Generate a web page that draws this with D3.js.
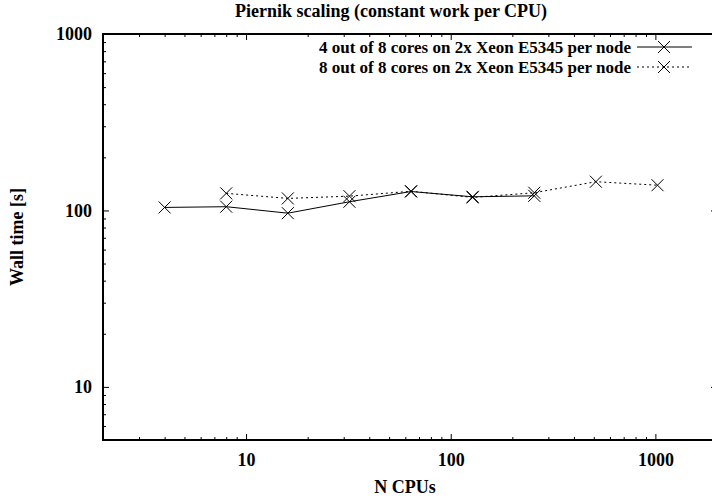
<!DOCTYPE html>
<html>
<head>
<meta charset="utf-8">
<script src="https://cdnjs.cloudflare.com/ajax/libs/d3/7.8.5/d3.min.js"></script>
<style>
  body { margin: 0; background: #fff; }
</style>
</head>
<body>
<div id="chart"></div>
<script>
// data
var cpus4 = [4, 8, 16, 32, 64, 128, 256];
var time4 = [104, 105, 96.5, 112, 128, 119.5, 121];
var cpus8 = [8, 16, 32, 64, 128, 256, 512, 1024];
var time8 = [125, 117, 120.5, 128.5, 118.5, 126, 145.5, 139];

var seriesNames = [
  "4 out of 8 cores on 2x Xeon E5345 per node",
  "8 out of 8 cores on 2x Xeon E5345 per node"
];

var xMajor = [10, 100, 1000];
var yMajor = [10, 100, 1000];

var FONT = "'Liberation Serif', 'Times New Roman', serif";

var width = 712, height = 501;
var margin = {top: 34, right: -5, bottom: 61, left: 103};

var x = d3.scaleLog()
  .domain([2, 2000])
  .range([margin.left, width - margin.right]);
var y = d3.scaleLog()
  .domain([5, 1000])
  .range([height - margin.bottom, margin.top]);

// minor ticks: 2..9 of each decade
function minors(lo, hi) {
  var out = [];
  for (var dec = 1; dec <= 1000; dec *= 10) {
    for (var k = 2; k <= 9; k++) {
      var v = k * dec;
      if (v >= lo && v <= hi) out.push(v);
    }
  }
  return out;
}

var svg = d3.select("#chart")
  .append("svg")
    .attr("width", width)
    .attr("height", height);

var x0 = x.range()[0], x1 = x.range()[1],
    y0 = y.range()[0], y1 = y.range()[1];

function label(sel, size) {
  return sel.style("font-family", FONT)
    .style("font-weight", "bold")
    .style("font-size", size + "px")
    .style("fill", "#000");
}

// ticks, inward, mirrored on top and right
function tickAxis(axis, tf, size, vals, labels) {
  var g = svg.append("g")
    .attr("transform", tf)
    .call(axis.tickValues(vals).tickSize(size).tickSizeOuter(0)
      .tickFormat(labels ? function(d) { return d; } : ""));
  g.select(".domain").remove();
  g.selectAll("line").attr("stroke", "#000").attr("stroke-width", 1);
  label(g.selectAll("text"), 18);
  return g;
}

var gb = tickAxis(d3.axisBottom(x), "translate(0," + y0 + ")", -6, xMajor, true);
gb.selectAll("text").attr("y", 13);
tickAxis(d3.axisBottom(x), "translate(0," + y0 + ")", -3, minors(2, 2000), false);
tickAxis(d3.axisTop(x), "translate(0," + y1 + ")", -6, xMajor, false);
tickAxis(d3.axisTop(x), "translate(0," + y1 + ")", -3, minors(2, 2000), false);

var gl = tickAxis(d3.axisLeft(y), "translate(" + x0 + ",0)", -6, yMajor, true);
gl.selectAll("text").attr("x", -11);
tickAxis(d3.axisLeft(y), "translate(" + x0 + ",0)", -3, minors(5, 1000), false);
tickAxis(d3.axisRight(y), "translate(" + x1 + ",0)", -6, yMajor, false);
tickAxis(d3.axisRight(y), "translate(" + x1 + ",0)", -3, minors(5, 1000), false);

// border
svg.append("rect")
  .attr("x", x0)
  .attr("y", y1)
  .attr("width", x1 - x0)
  .attr("height", y0 - y1)
  .style("fill", "none")
  .style("stroke", "#000")
  .style("stroke-width", 2);

// titles
label(svg.append("text"), 18)
  .attr("x", 391)
  .attr("y", 17)
  .attr("text-anchor", "middle")
  .text("Piernik scaling (constant work per CPU)");

label(svg.append("text"), 18)
  .attr("x", 405)
  .attr("y", 493)
  .attr("text-anchor", "middle")
  .text("N CPUs");

label(svg.append("text"), 18)
  .attr("transform", "translate(23," + ((y0 + y1) / 2) + ") rotate(-90)")
  .attr("text-anchor", "middle")
  .text("Wall time [s]");

// series
var series = [
  {xs: cpus4, ys: time4, dash: null},
  {xs: cpus8, ys: time8, dash: "2,3"}
];

var line = d3.line()
  .x(function(d) { return x(d[0]); })
  .y(function(d) { return y(d[1]); });

function cross(g, cx, cy) {
  var r = 6;
  g.append("path")
    .attr("d", "M" + (cx - r) + "," + (cy - r) + "L" + (cx + r) + "," + (cy + r) +
               "M" + (cx - r) + "," + (cy + r) + "L" + (cx + r) + "," + (cy - r))
    .style("stroke", "#000")
    .style("stroke-width", 1)
    .style("fill", "none");
}

series.forEach(function(s, i) {
  var pts = s.xs.map(function(c, j) { return [c, s.ys[j]]; });
  var g = svg.append("g");
  g.append("path")
    .datum(pts)
    .attr("d", line)
    .style("fill", "none")
    .style("stroke", "#000")
    .style("stroke-width", 1)
    .style("stroke-dasharray", s.dash);
  pts.forEach(function(p) { cross(g, x(p[0]), y(p[1])); });

  // legend entry
  var ly = 47 + i * 20;
  label(svg.append("text"), 17)
    .attr("x", 631)
    .attr("y", ly + 6)
    .attr("text-anchor", "end")
    .text(seriesNames[i]);
  svg.append("line")
    .attr("x1", 637).attr("x2", 692)
    .attr("y1", ly).attr("y2", ly)
    .style("stroke", "#000")
    .style("stroke-width", 1)
    .style("stroke-dasharray", s.dash);
  cross(svg, 664, ly);
});
</script>
</body>
</html>
